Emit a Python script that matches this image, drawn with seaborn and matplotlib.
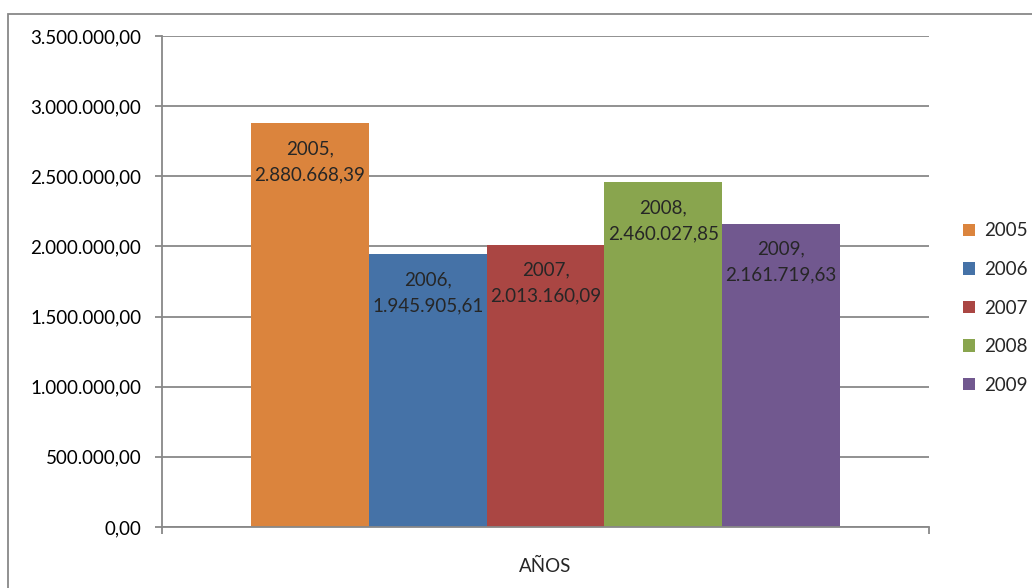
import pandas as pd
import seaborn as sns
import matplotlib.pyplot as plt
from matplotlib.ticker import FuncFormatter, MultipleLocator
from matplotlib.patches import Rectangle, Patch

# data
years = ['2005', '2006', '2007', '2008', '2009']
amounts = [2880668.39, 1945905.61, 2013160.09, 2460027.85, 2161719.63]
category = ['AÑOS'] * len(years)
colors = ['#DB843D', '#4572A7', '#AA4643', '#89A54E', '#71588F']


def es_number(v, pos=None):
    # 2880668.39 -> 2.880.668,39
    s = f'{v:,.2f}'
    return s.replace(',', 'X').replace('.', ',').replace('X', '.')


df = pd.DataFrame({'Grupo': category, 'Año': years, 'Importe': amounts})
palette = dict(zip(years, colors))

sns.set_style('white')
plt.rcParams['font.family'] = ['Lato', 'DejaVu Sans']
grid_col = '#888888'
fs = 13.5

fig = plt.figure(figsize=(10.32, 5.88), dpi=100)
ax = fig.add_axes([162 / 1032, 1 - 527 / 588, (929 - 162) / 1032, (527 - 36) / 588])

sns.barplot(data=df, x='Grupo', y='Importe', hue='Año', hue_order=years,
            palette=palette, width=0.768, saturation=1, errorbar=None,
            linewidth=0, legend=False, ax=ax)

ax.set_xlim(-0.5, 0.5)
ax.set_ylim(0, 3500000)
ax.yaxis.set_major_locator(MultipleLocator(500000))
ax.yaxis.set_major_formatter(FuncFormatter(es_number))
ax.set_axisbelow(True)
ax.grid(axis='y', color=grid_col, linewidth=1.3)
ax.grid(axis='x', visible=False)

for side in ['top', 'right']:
    ax.spines[side].set_visible(False)
for side in ['left', 'bottom']:
    ax.spines[side].set_color(grid_col)
    ax.spines[side].set_linewidth(1.3)

ax.tick_params(axis='y', left=True, length=5, color=grid_col, width=1.3,
               labelsize=fs, labelcolor='black', pad=10)
ax.set_xticks([-0.5, 0.5])
ax.set_xticklabels(['', ''])
ax.tick_params(axis='x', bottom=True, length=5, color=grid_col, width=1.3)
ax.set_ylabel('')
ax.set_xlabel('')
ax.text(0, -0.062, 'AÑOS', transform=ax.get_xaxis_transform(),
        ha='center', va='top', fontsize=fs)

# labels at the inner top of every bar
for bar, yr, val in zip(ax.patches, years, amounts):
    ax.annotate(f'{yr},\n{es_number(val)}',
                (bar.get_x() + bar.get_width() / 2, bar.get_height()),
                xytext=(0, -17), textcoords='offset pixels',
                ha='center', va='top', fontsize=fs, linespacing=1.65)

handles = [Patch(facecolor=c, edgecolor='none') for c in colors]
fig.legend(handles, years, loc='center left', bbox_to_anchor=(963 / 1032, 1 - 308 / 588),
           frameon=False, fontsize=fs, handlelength=0.65, handleheight=0.65,
           handletextpad=0.45, labelspacing=1.15, borderpad=0, borderaxespad=0)

# chart border (runs off the right and bottom of the image)
fig.patches.append(Rectangle((8 / 1032, -0.1), 1.1, 1 - 14 / 588 + 0.1,
                             transform=fig.transFigure, fill=False,
                             edgecolor=grid_col, linewidth=1.3))

fig.savefig('out.png', dpi=100)
